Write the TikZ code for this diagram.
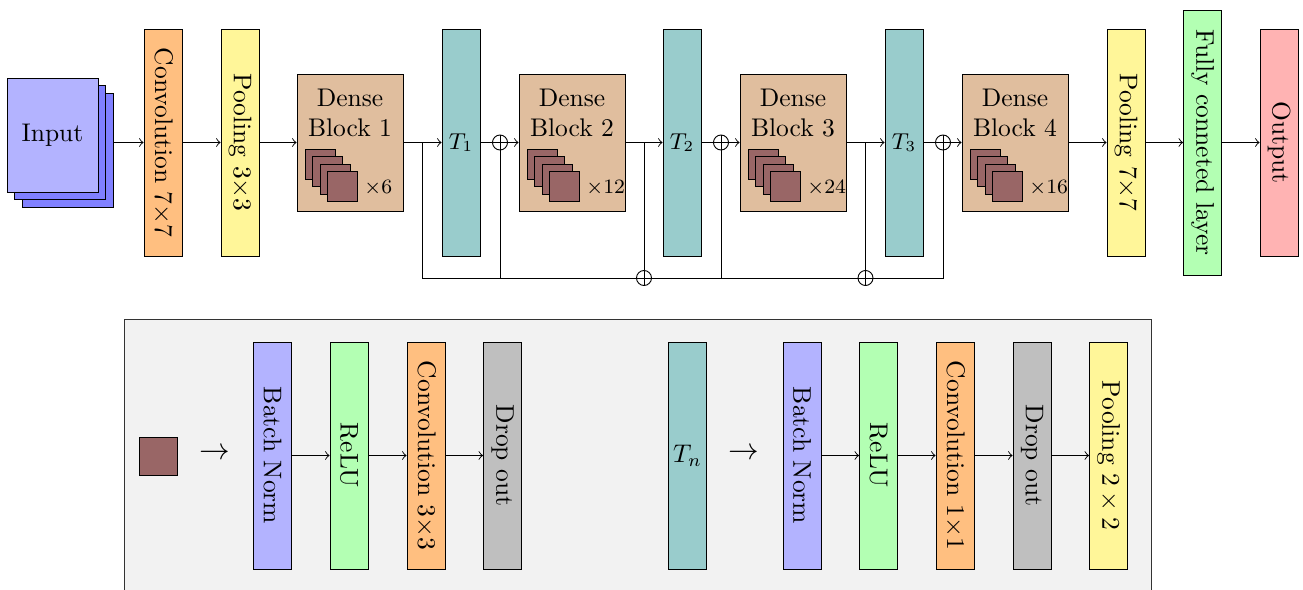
\documentclass[tikz,border=0pt]{standalone}
\usepackage{graphicx}
\definecolor{inA}{RGB}{179,179,255}
\definecolor{inB}{RGB}{128,128,255}
\definecolor{convc}{RGB}{255,191,128}
\definecolor{poolc}{RGB}{255,246,153}
\definecolor{densec}{RGB}{224,190,158}
\definecolor{sqc}{RGB}{153,102,102}
\definecolor{transc}{RGB}{153,204,204}
\definecolor{fcc}{RGB}{179,255,179}
\definecolor{outc}{RGB}{255,179,179}
\definecolor{dropc}{RGB}{191,191,191}
\definecolor{legc}{RGB}{242,242,242}
\def\pu{0.3922pt}
\begin{document}
\begin{tikzpicture}[x=\pu, y=-\pu, line width=0.36pt,
  layer/.style={draw, minimum width=38*\pu, minimum height=227*\pu, inner sep=0, anchor=center},
  inlayer/.style={draw, minimum width=91*\pu, minimum height=114*\pu, inner sep=0},
  dense/.style={draw, fill=densec, minimum width=106*\pu, minimum height=137*\pu, inner sep=0},
  sq/.style={draw, fill=sqc, minimum size=30*\pu, inner sep=0},
  sumnode/.style={circle, draw, inner sep=0, minimum size=15*\pu,
    path picture={\draw (path picture bounding box.north) -- (path picture bounding box.south)
      (path picture bounding box.west) -- (path picture bounding box.east);}},
  legendbox/.style={draw=black!80, fill=legc, minimum width=1027*\pu, minimum height=290*\pu, inner sep=0, anchor=north west}
]
\useasboundingbox (0,0) rectangle (1303,589);

% ---------- top row ----------
\node[inlayer, fill=inB] (in3) at (67.5,150) {};
\node[inlayer, fill=inB] (in2) at (60,142.5) {};
\node[inlayer, fill=inA] (in1) at (52.5,135) {Input};

\node[layer, fill=convc] (conv) at (163,142.5) {\rotatebox{-90}{Convolution 7$\times$7}};
\node[layer, fill=poolc] (pool) at (240,142.5) {\rotatebox{-90}{Pooling 3$\times$3}};

\foreach \i/\cx/\n in {1/350/6, 2/572/12, 3/793/24, 4/1015/16} {
  \node[dense] (d\i) at (\cx,142.5) {};
  \node[align=center, inner sep=0] (dt\i) at (\cx,113) {Dense\\Block \i};
  \foreach \k in {0,...,3}
    \node[sq] (ds\i\k) at (\cx-30+\k*7.5, 164+\k*7.5) {};
  \node[anchor=west, inner sep=0, font=\footnotesize] (dn\i) at (\cx+14,188) {$\times\n$};
}

\node[layer, fill=transc] (t1) at (461,142.5) {\small$T_1$};
\node[layer, fill=transc] (t2) at (682,142.5) {\small$T_2$};
\node[layer, fill=transc] (t3) at (904,142.5) {\small$T_3$};

\node[sumnode] (s1) at (500,142.5) {};
\node[sumnode] (s2) at (721,142.5) {};
\node[sumnode] (s3) at (943,142.5) {};

\node[layer, fill=poolc] (pool7) at (1126,142.5) {\rotatebox{-90}{Pooling 7$\times$7}};
\node[layer, fill=fcc, minimum height=265*\pu] (fc) at (1202.5,142.5) {\rotatebox{-90}{Fully conneted layer}};
\node[layer, fill=outc] (out) at (1279,142.5) {\rotatebox{-90}{Output}};

\draw[->] (in3.east |- conv.west) -- (conv.west);
\draw[->] (conv) -- (pool);
\draw[->] (pool) -- (d1);
\draw[->] (d1) -- (t1);
\draw (t1) -- (s1);
\draw[->] (s1) -- (d2);
\draw[->] (d2) -- (t2);
\draw (t2) -- (s2);
\draw[->] (s2) -- (d3);
\draw[->] (d3) -- (t3);
\draw (t3) -- (s3);
\draw[->] (s3) -- (d4);
\draw[->] (d4) -- (pool7);
\draw[->] (pool7) -- (fc);
\draw[->] (fc) -- (out);

% skip connections
\coordinate (b1) at (422.5,142.5);
\coordinate (b2) at (644,142.5);
\coordinate (b3) at (865.5,142.5);
\node[sumnode] (bs2) at (644,278) {};
\node[sumnode] (bs3) at (865.5,278) {};
\draw (b1) |- (bs2.west);
\draw (s1 |- bs2) -- (s1.south);
\draw (b2) -- (bs2.north);
\draw (bs2.east) -- (bs3.west);
\draw (s2 |- bs2) -- (s2.south);
\draw (b3) -- (bs3.north);
\draw (bs3.east) -| (s3.south);

% ---------- legend ----------
\node[legendbox] (legend) at (124,319) {};

\node[draw, fill=sqc, minimum size=38*\pu, inner sep=0] (lsq) at (158,456) {};
\node[inner sep=0, font=\large] (larr1) at (215,454) {$\rightarrow$};
\node[layer, fill=inA] (lbn1) at (272.5,455.5) {\rotatebox{-90}{Batch Norm}};
\node[layer, fill=fcc] (lrelu1) at (349,455.5) {\rotatebox{-90}{ReLU}};
\node[layer, fill=convc] (lconv1) at (426,455.5) {\rotatebox{-90}{Convolution 3$\times$3}};
\node[layer, fill=dropc] (ldrop1) at (502.5,455.5) {\rotatebox{-90}{Drop out}};
\draw[->] (lbn1) -- (lrelu1);
\draw[->] (lrelu1) -- (lconv1);
\draw[->] (lconv1) -- (ldrop1);

\node[layer, fill=transc] (ltn) at (687.5,455.5) {$T_n$};
\node[inner sep=0, font=\large] (larr2) at (744,454) {$\rightarrow$};
\node[layer, fill=inA] (lbn2) at (802,455.5) {\rotatebox{-90}{Batch Norm}};
\node[layer, fill=fcc] (lrelu2) at (878.5,455.5) {\rotatebox{-90}{ReLU}};
\node[layer, fill=convc] (lconv2) at (955,455.5) {\rotatebox{-90}{Convolution 1$\times$1}};
\node[layer, fill=dropc] (ldrop2) at (1032,455.5) {\rotatebox{-90}{Drop out}};
\node[layer, fill=poolc] (lpool2) at (1108.5,455.5) {\rotatebox{-90}{Pooling $2\times 2$}};
\draw[->] (lbn2) -- (lrelu2);
\draw[->] (lrelu2) -- (lconv2);
\draw[->] (lconv2) -- (ldrop2);
\draw[->] (ldrop2) -- (lpool2);
\end{tikzpicture}
\end{document}
